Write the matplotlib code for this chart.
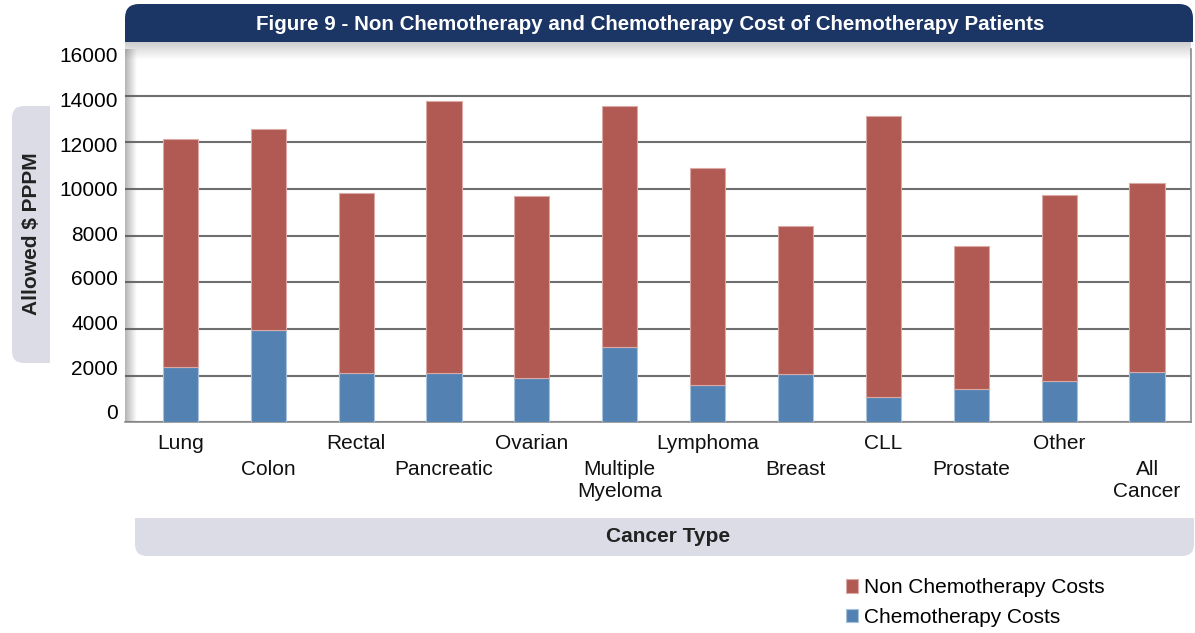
import numpy as np
import matplotlib
matplotlib.use('Agg')
import matplotlib.pyplot as plt
from matplotlib.patches import FancyBboxPatch, Rectangle
from matplotlib.transforms import IdentityTransform, blended_transform_factory, ScaledTranslation

plt.rcParams['font.family'] = ['Liberation Sans', 'DejaVu Sans']

# Data
categories = ['Lung', 'Colon', 'Rectal', 'Pancreatic', 'Ovarian', 'Multiple\nMyeloma',
              'Lymphoma', 'Breast', 'CLL', 'Prostate', 'Other', 'All\nCancer']
chemo_costs = [2355, 3953, 2124, 2111, 1884, 3212, 1585, 2056, 1096, 1439, 1756, 2141]
non_chemo_costs = [9808, 8638, 7683, 11662, 7821, 10334, 9306, 6338, 12052, 6098, 7993, 8095]
y_ticks = [0, 2000, 4000, 6000, 8000, 10000, 12000, 14000, 16000]

red = '#b05a53'
blue = '#5382b2'
navy = '#1b3565'
box_gray = '#dcdce6'

W, H = 1195, 633
fig = plt.figure(figsize=(W / 100, H / 100), dpi=100)


def px_box(x0, y0, x1, y1, color, pad=14, square='bottom'):
    # rounded box in pixel coords (y measured from top), with one side squared off
    r = FancyBboxPatch((x0 + pad, H - y1 + pad), (x1 - x0) - 2 * pad, (y1 - y0) - 2 * pad,
                       boxstyle='round,pad=%d' % pad, transform=IdentityTransform(),
                       facecolor=color, edgecolor='none', zorder=0)
    fig.patches.append(r)
    if square == 'bottom':
        s = Rectangle((x0, H - y1), x1 - x0, (y1 - y0) / 2)
    elif square == 'top':
        s = Rectangle((x0, H - y0 - (y1 - y0) / 2), x1 - x0, (y1 - y0) / 2)
    else:  # right
        s = Rectangle((x0 + (x1 - x0) / 2, H - y1), (x1 - x0) / 2, y1 - y0)
    s.set_transform(IdentityTransform())
    s.set_facecolor(color)
    s.set_edgecolor('none')
    s.set_zorder(0)
    fig.patches.append(s)


# title / axis label boxes
px_box(125, 4, 1193, 42, navy, pad=14, square='bottom')
px_box(12, 106, 50, 363, box_gray, pad=12, square='right')
px_box(135, 518, 1194, 556, box_gray, pad=12, square='top')

fig.text(650 / W, 1 - 24 / H, 'Figure 9 - Non Chemotherapy and Chemotherapy Cost of Chemotherapy Patients',
         color='white', fontsize=14.8, fontweight='bold', ha='center', va='center')
fig.text(32 / W, 1 - 234 / H, 'Allowed $ PPPM', rotation=90, fontsize=15,
         fontweight='bold', ha='center', va='center', color='#222222')
fig.text(668 / W, 1 - 537 / H, 'Cancer Type', fontsize=15, fontweight='bold',
         ha='center', va='center', color='#222222')

ax = fig.add_axes([125 / W, 1 - 422.3 / H, (1191 - 125) / W, (422.3 - 49) / H])
x = np.arange(len(categories))
ax.bar(x, chemo_costs, width=0.4, color=blue, edgecolor='#a9c2dc', linewidth=0.8,
       label='Chemotherapy Costs', zorder=3)
ax.bar(x, non_chemo_costs, bottom=chemo_costs, width=0.4, color=red, edgecolor='#dcaaa6',
       linewidth=0.8, label='Non Chemotherapy Costs', zorder=3)

ax.set_xlim(-0.63, 11.5)
ax.set_ylim(0, 16000)
ax.set_yticks(y_ticks)
ax.set_yticklabels([str(v) for v in y_ticks], fontsize=15)
ax.tick_params(axis='y', length=0, pad=5)
# in the original the labels are spaced a bit tighter than the gridlines
for v, lab in zip(y_ticks, ax.get_yticklabels()):
    i = (16000 - v) / 2000
    off = 6 - 2.09 * i
    lab.set_transform(lab.get_transform() + ScaledTranslation(0, -off / 100, fig.dpi_scale_trans))
ax.set_xticks([])
ax.grid(axis='y', color='#6e6e6e', linewidth=1.5, zorder=1)
ax.get_ygridlines()[-1].set_visible(False)
for s in ['top', 'left']:
    ax.spines[s].set_visible(False)
ax.spines['bottom'].set_color('#8c8c8c')
ax.spines['right'].set_color('#8c8c8c')
ax.spines['bottom'].set_linewidth(1.2)
ax.spines['right'].set_linewidth(1.2)

# soft shadow on the left edge of the plot
left_sh = np.zeros((1, 60, 4))
left_sh[..., :3] = 0.35
left_sh[0, :, 3] = np.linspace(0.45, 0, 60)
ax.imshow(left_sh, extent=[0, 0.011, 0, 1], transform=ax.transAxes,
          aspect='auto', zorder=2, interpolation='bilinear')

# soft shadow under the title bar
sh = fig.add_axes([125 / W, 1 - 60 / H, (1191 - 125) / W, 18 / H])
top_sh = np.zeros((60, 1, 4))
top_sh[..., :3] = 0.35
top_sh[:, 0, 3] = np.linspace(0.3, 0, 60)
sh.imshow(top_sh, aspect='auto', extent=[0, 1, 0, 1], interpolation='bilinear')
sh.axis('off')

# staggered category labels
trans = blended_transform_factory(ax.transData, ax.transAxes)
for i, lab in enumerate(categories):
    ypos = -0.032 if i % 2 == 0 else -0.102
    ax.text(i, ypos, lab, transform=trans, ha='center', va='top', fontsize=15,
            linespacing=1.15, color='#111111')

# legend
handles, labels = ax.get_legend_handles_labels()
fig.legend(handles[::-1], labels[::-1], loc='upper left', bbox_to_anchor=(838 / W, 1 - 570 / H),
           frameon=False, fontsize=15, handlelength=0.55, handleheight=0.6,
           handletextpad=0.3, labelspacing=0.5, borderaxespad=0)

fig.savefig('out.png', dpi=100)
